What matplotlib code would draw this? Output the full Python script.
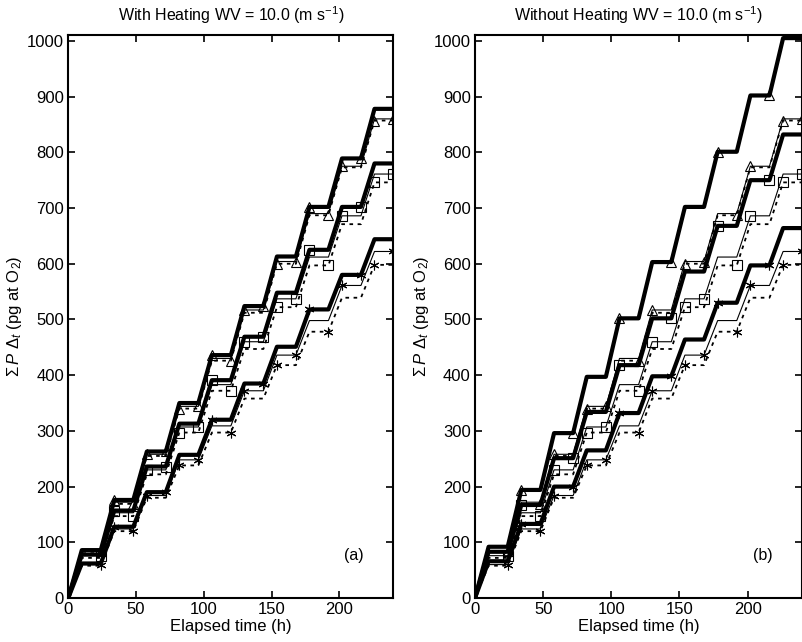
import numpy as np
import matplotlib.pyplot as plt

plt.rcParams['font.family'] = ['Liberation Sans', 'DejaVu Sans']
plt.rcParams['mathtext.fontset'] = 'custom'
plt.rcParams['mathtext.rm'] = 'Liberation Sans'
plt.rcParams['mathtext.it'] = 'Liberation Sans:italic'

# vertex times: start / end of each daily rise (h)
hours = [0, 10, 24, 34, 48, 58, 72, 82, 96, 106, 120, 130, 144, 154,
         168, 178, 192, 202, 216, 226, 240]

# cumulative totals at the end of each day, thick model lines
tri_heat = [86, 176, 263, 350, 436, 524, 613, 702, 789, 878]
sq_heat = [78, 157, 236, 313, 391, 469, 548, 625, 702, 780]
ast_heat = [62, 128, 190, 257, 320, 385, 451, 518, 580, 644]

tri_noheat = [92, 194, 296, 397, 502, 603, 702, 801, 902, 1005]
sq_noheat = [83, 167, 251, 334, 418, 502, 586, 668, 750, 832]
ast_noheat = [66, 133, 200, 265, 332, 398, 464, 530, 597, 664]

# thin solid and dotted lines (same in both panels)
tri_thin = [85, 172, 258, 344, 430, 517, 604, 690, 775, 860]
tri_dot = [83, 169, 255, 340, 426, 512, 600, 687, 773, 857]
sq_thin = [76, 153, 230, 307, 383, 460, 537, 612, 686, 761]
sq_dot = [72, 147, 222, 297, 372, 447, 522, 597, 671, 746]
ast_thin = [60, 124, 184, 248, 309, 372, 436, 498, 561, 622]
ast_dot = [58, 120, 180, 238, 297, 358, 418, 478, 539, 598]

titles = ['With Heating WV = 10.0 (m s$^{-1}$)',
          'Without Heating WV = 10.0 (m s$^{-1}$)']
panel_tags = ['(a)', '(b)']
thick_sets = [(tri_heat, sq_heat, ast_heat), (tri_noheat, sq_noheat, ast_noheat)]
thin_set = (tri_thin, sq_thin, ast_thin)
dot_set = (tri_dot, sq_dot, ast_dot)
markers = ['^', 's', (6, 2, 0)]


def steps(v):
    return np.concatenate([[0], np.repeat(v, 2)])


fig = plt.figure(figsize=(8.03, 6.42), dpi=100)
boxes = [[0.085, 0.0685, 0.405, 0.8765], [0.5915, 0.0685, 0.4075, 0.8765]]

for i in range(2):
    ax = fig.add_axes(boxes[i])
    for j in range(3):
        m = markers[j]
        ax.plot(hours, steps(dot_set[j]), color='black', lw=1.3,
                linestyle=(0, (2, 2.5)), marker=m, ms=7, mfc='none',
                mec='black', mew=0.8, markevery=(4, 3))
        ax.plot(hours, steps(thin_set[j]), color='black', lw=0.8,
                marker=m, ms=7, mfc='none', mec='black', mew=0.8,
                markevery=(2, 3))
        ax.plot(hours, steps(thick_sets[i][j]), color='black', lw=3,
                solid_joinstyle='round', marker=m, ms=7, mfc='none',
                mec='black', mew=0.8, markevery=(3, 3))
    ax.set_xlim(0, 240)
    ax.set_ylim(0, 1010)
    ax.set_xticks([0, 50, 100, 150, 200])
    ax.set_yticks(np.arange(0, 1001, 100))
    ax.tick_params(direction='in', top=True, right=True, length=5,
                   width=1.2, labelsize=12, pad=3)
    for s in ax.spines.values():
        s.set_linewidth(1.5)
    ax.set_xlabel('Elapsed time (h)', fontsize=12, labelpad=1)
    ax.set_ylabel(r'$\Sigma\,P\ \Delta_t$ (pg at O$_2$)', fontsize=12, labelpad=2)
    ax.set_title(titles[i], fontsize=11.5, pad=10)
    ax.text(211, 77, panel_tags[i], fontsize=11.5, ha='center', va='center')

fig.savefig('out.png', dpi=100)
